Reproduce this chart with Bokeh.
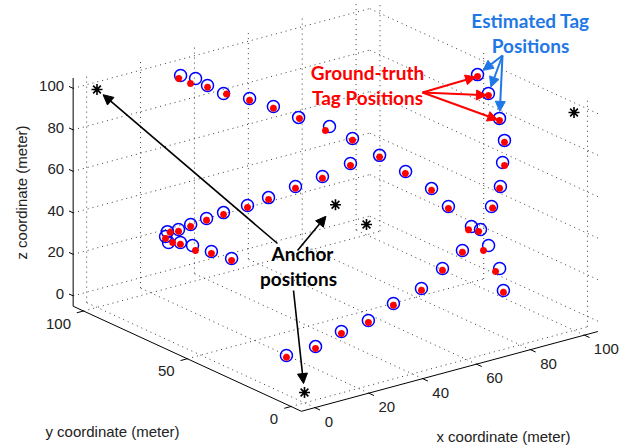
import numpy as np
from bokeh.plotting import figure
from bokeh.models import Range1d, Arrow, NormalHead, Label
from bokeh.embed import file_html
from bokeh.resources import INLINE
from bokeh.core.properties import value

# ---------------- data (metres) ----------------
est_x = [26.4, 29.8, 32.0, 35.8, 43.3, 49.9, 57.1, 66.4, 72.7, 80.6, 88.1, 95.5, 99.6,
         96.6, 96.1,
         66.3, 58.9, 51.1, 40.7, 31.4, 21.4, 11.8, 1.0,
         96.9, 95.5, 91.4, 92.5, 95.8, 96.6, 97.3, 99.3, 97.5, 95.0,
         14.6, 13.9, 15.0, 18.7, 23.2, 29.1, 35.4, 44.3, 52.1, 62.1, 72.1, 82.5,
         19.4, 23.9, 30.9, 38.4]
est_y = [94.0, 91.2, 88.3, 85.5, 82.7, 79.8, 77.0, 74.2, 71.3, 68.5, 65.7, 62.8, 60.0,
         45, 40,
         10, 10, 10, 10, 10, 10, 10, 10,
         30, 30, 30, 30, 30, 30, 30, 35, 38, 40,
         85, 85, 85, 85, 85, 85, 85, 85, 85, 85, 85, 85,
         85, 85, 85, 85]
est_z = [100.3, 98.9, 96.1, 92.2, 88.5, 83.7, 77.2, 70.8, 64.2, 54.6, 45.5, 36.0, 27.2,
         25.5, 26.6,
         40.7, 34.6, 27.7, 24.1, 19.1, 17.3, 13.4, 12.9,
         1.5, 12.6, 25.1, 43.5, 52.0, 63.3, 73.7, 81.3, 92.5, 101.6,
         33.3, 31.2, 27.9, 32.9, 33.7, 34.6, 35.2, 35.5, 36.6, 38.5, 39.8, 42.4,
         26.4, 23.4, 18.0, 12.0]

gt_x = [25.7, 27.9, 32.0, 36.9, 43.3, 49.9, 57.4, 64.9, 72.7, 80.6, 88.0, 95.5, 99.6,
        95.5, 95.4,
        66.3, 58.9, 51.1, 40.7, 31.4, 21.4, 11.8, 1.0,
        96.9, 94.0, 89.5, 92.9, 95.5, 97.3, 97.3, 99.3, 97.5, 95.0,
        15.6, 13.9, 16.5, 18.7, 23.2, 29.1, 35.4, 44.3, 52.1, 62.1, 72.1, 82.5,
        19.4, 25.0, 30.9, 38.4]
gt_y = est_y
gt_z = [99.1, 97.2, 95.3, 91.6, 87.6, 82.8, 76.6, 69.4, 63.4, 53.8, 44.6, 35.2, 26.3,
        24.4, 25.9,
        39.8, 33.7, 26.8, 23.2, 18.2, 16.4, 12.5, 12.0,
        0.6, 11.7, 23.4, 42.6, 51.2, 61.6, 72.8, 80.3, 91.6, 100.7,
        32.6, 30.3, 27.4, 32.0, 32.8, 33.7, 34.3, 34.6, 35.7, 37.6, 38.9, 41.5,
        25.5, 20.6, 17.1, 11.1]

anchor_x = [0, 100, 0, 100, 50]
anchor_y = [0, 100, 100, 0, 50]
anchor_z = [0, 0, 100, 100, 50]

x_ticks = [0, 20, 40, 60, 80, 100]
y_ticks = [0, 50, 100]
z_ticks = [0, 20, 40, 60, 80, 100]
LO, HI = -5, 105

# ---------------- 3-D view (orthographic projection to page pixels) ----------------
O = (304.0, 392.0)
EX = (2.695, -0.725)
EY = (-2.075, -0.955)
EZ = (0.0, -2.075)


def proj(x, y, z):
    x, y, z = np.asarray(x, float), np.asarray(y, float), np.asarray(z, float)
    u = O[0] + EX[0] * x + EY[0] * y + EZ[0] * z
    v = O[1] + EX[1] * x + EY[1] * y + EZ[1] * z
    return u, v


def seg(p0, p1):
    u0, v0 = proj(*p0)
    u1, v1 = proj(*p1)
    return [float(u0), float(u1)], [float(v0), float(v1)]


W, H = 624, 445
p = figure(width=W, height=H, x_range=Range1d(0, W), y_range=Range1d(H, 0),
           output_backend="svg", toolbar_location=None, min_border=0,
           x_axis_location=None, y_axis_location=None)
p.grid.visible = False
p.outline_line_color = None
p.background_fill_color = "white"
p.border_fill_color = "white"

# ---------------- grid ----------------
gx, gy = [], []
for t in x_ticks:
    for a, b in [((t, LO, LO), (t, HI, LO)), ((t, HI, LO), (t, HI, HI))]:
        s = seg(a, b); gx.append(s[0]); gy.append(s[1])
for t in y_ticks:
    for a, b in [((LO, t, LO), (HI, t, LO)), ((HI, t, LO), (HI, t, HI))]:
        s = seg(a, b); gx.append(s[0]); gy.append(s[1])
for t in z_ticks:
    for a, b in [((LO, HI, t), (HI, HI, t)), ((HI, LO, t), (HI, HI, t))]:
        s = seg(a, b); gx.append(s[0]); gy.append(s[1])
p.multi_line(gx, gy, line_color="#3c3c3c", line_width=1, line_dash="1 4")

# ---------------- axes ----------------
ax, ay = [], []
for a, b in [((LO, LO, LO), (HI, LO, LO)), ((LO, LO, LO), (LO, HI, LO)), ((LO, HI, LO), (LO, HI, HI))]:
    s = seg(a, b); ax.append(s[0]); ay.append(s[1])
for t in x_ticks:
    s = seg((t, LO, LO), (t, LO - 2.5, LO)); ax.append(s[0]); ay.append(s[1])
for t in y_ticks:
    s = seg((LO, t, LO), (LO - 2.5, t, LO)); ax.append(s[0]); ay.append(s[1])
for t in z_ticks:
    s = seg((LO, HI, t), (LO, HI + 2.0, t)); ax.append(s[0]); ay.append(s[1])
p.multi_line(ax, ay, line_color="black", line_width=1)

TF = value("Liberation Sans")
# tick labels
ux, vx = proj(x_ticks, [LO] * len(x_ticks), [LO] * len(x_ticks))
lx = [str(t) for t in x_ticks]
p.text(ux + np.array([10 + 4 * len(s) for s in lx]), vx + 14, text=lx, text_font=TF,
       text_font_size="15px", text_align="center", text_baseline="middle", text_color="#222")
uy, vy = proj([LO] * len(y_ticks), y_ticks, [LO] * len(y_ticks))
ly = [str(t) for t in y_ticks]
p.text(uy - np.array([13 + 4 * len(s) for s in ly]), vy + 12.5, text=ly, text_font=TF,
       text_font_size="15px", text_align="center", text_baseline="middle", text_color="#222")
uz, vz = proj([LO] * len(z_ticks), [HI] * len(z_ticks), z_ticks)
p.text(uz - 9, vz - 2, text=[str(t) for t in z_ticks], text_font=TF,
       text_font_size="15px", text_align="right", text_baseline="middle", text_color="#222")

# axis titles
for txt, xx, yy, ang in [("x coordinate (meter)", 503, 436, 0),
                         ("y coordinate (meter)", 112, 431, 0),
                         ("z coordinate (meter)", 21, 192, np.pi / 2)]:
    p.add_layout(Label(x=xx, y=yy, text=txt, angle=ang, text_font="Liberation Sans",
                       text_font_size="15px", text_align="center", text_baseline="middle",
                       text_color="#222"))

# ---------------- data marks ----------------
eu, ev = proj(est_x, est_y, est_z)
p.scatter(eu, ev, marker="circle", size=12, fill_color=None, line_color="#0000ff", line_width=1.5)
gu, gv = proj(gt_x, gt_y, gt_z)
p.scatter(gu, gv, marker="asterisk", size=7, line_color="#ff0000", line_width=2.2)
au, av = proj(anchor_x, anchor_y, anchor_z)
p.scatter(au, av, marker="asterisk", size=11, line_color="black", line_width=1.6)

# ---------------- annotations ----------------
AF = "Lato"
for txt, xx, yy, col in [("Ground-truth", 367, 72, "#ff0000"), ("Tag Positions", 367, 97, "#ff0000"),
                         ("Estimated Tag", 530, 20, "#1f78e6"), ("Positions", 530, 45, "#1f78e6"),
                         ("Anchor", 302, 253, "black"), ("positions", 298, 278, "black")]:
    p.add_layout(Label(x=xx, y=yy, text=txt, text_font=AF, text_font_style="bold",
                       text_font_size="19px", text_align="center", text_baseline="middle",
                       text_color=col))


def add_arrow(x0, y0, x1, y1, col, back, lw):
    d = np.hypot(x1 - x0, y1 - y0)
    xe = x1 - (x1 - x0) / d * back
    ye = y1 - (y1 - y0) / d * back
    p.add_layout(Arrow(end=NormalHead(size=10, fill_color=col, line_color=col),
                       x_start=x0, y_start=y0, x_end=float(xe), y_end=float(ye),
                       line_color=col, line_width=lw))


# black arrows to anchors (0,100,100), (50,50,50), (0,0,0)
add_arrow(277, 243, float(au[2]), float(av[2]), "black", 8, 1.6)
add_arrow(297, 250, float(au[4]), float(av[4]), "black", 15, 1.6)
add_arrow(293, 290, float(au[0]), float(av[0]), "black", 9, 1.6)
# red arrows to ground-truth of three tag positions, blue to estimated
for k in (32, 31, 30):
    add_arrow(422, 92, float(gu[k]), float(gv[k]), "#ff0000", 2, 2)
    add_arrow(502, 55, float(eu[k]), float(ev[k]), "#1f78e6", 7, 2)

open("out.html", "w").write(file_html(p, INLINE))
